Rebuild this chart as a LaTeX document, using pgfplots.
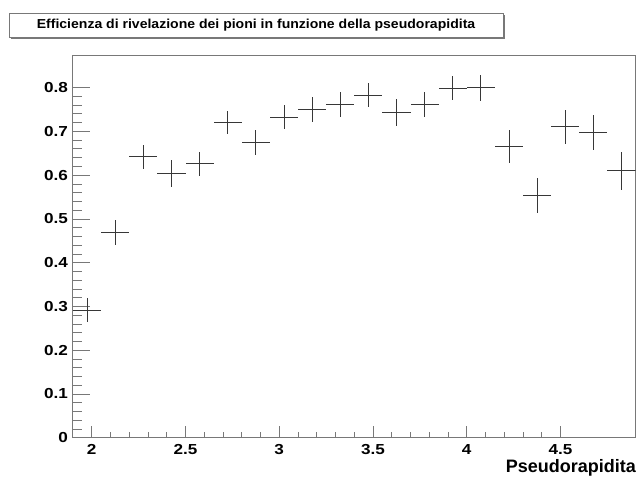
\documentclass[border=0pt]{standalone}
\usepackage{fontspec}
\setmainfont{Liberation Sans}
\usepackage{pgfplots}
\pgfplotsset{compat=1.18}
\usepackage{pgfplotstable}

% efficiency per pseudorapidity bin: centre, value, half bin width, error
\pgfplotstableread{
x      y      ex     ey
1.975  0.292  0.075  0.027
2.125  0.469  0.075  0.029
2.275  0.642  0.075  0.028
2.425  0.604  0.075  0.030
2.575  0.626  0.075  0.028
2.725  0.720  0.075  0.027
2.875  0.675  0.075  0.028
3.025  0.733  0.075  0.027
3.175  0.750  0.075  0.029
3.325  0.762  0.075  0.028
3.475  0.783  0.075  0.028
3.625  0.744  0.075  0.031
3.775  0.762  0.075  0.029
3.925  0.799  0.075  0.028
4.075  0.800  0.075  0.030
4.225  0.666  0.075  0.038
4.375  0.554  0.075  0.040
4.525  0.711  0.075  0.039
4.675  0.697  0.075  0.040
4.825  0.610  0.075  0.044
}\efftable

\definecolor{framegray}{RGB}{120,120,120}
\definecolor{crossgray}{RGB}{55,55,55}
\newcommand{\labfont}{\bfseries\addfontfeatures{FakeStretch=1.18}\fontsize{14.5}{17}\selectfont}
\newcommand{\titfont}{\bfseries\fontsize{18}{20}\selectfont}

\begin{document}
\begin{tikzpicture}[x=1pt,y=1pt]
\begin{axis}[
  name=ax,
  width=562.5pt, height=382pt, scale only axis,
  xmin=1.9, xmax=4.9, ymin=0, ymax=0.873,
  axis line style={framegray, line width=1pt},
  tick pos=left, tick align=inside,
  xtick={2,2.5,3,3.5,4,4.5}, minor x tick num=4,
  ytick={0,0.1,0.2,0.3,0.4,0.5,0.6,0.7,0.8}, minor y tick num=4,
  xticklabels={2,2.5,3,3.5,4,4.5},
  yticklabels={0,0.1,0.2,0.3,0.4,0.5,0.6,0.7,0.8},
  major tick length=17pt, minor tick length=9pt,
  xtick style={/pgfplots/major tick length=12pt, /pgfplots/minor tick length=6pt},
  every tick/.style={framegray, line width=0.8pt},
  tick label style={font=\labfont, black, inner sep=0pt},
  xticklabel style={anchor=north, yshift=-6.3pt},
  yticklabel style={anchor=east, xshift=-5pt},
  xlabel={Pseudorapidita},
  xlabel style={font=\titfont, inner sep=0pt,
    at={(axis description cs:1,0)}, anchor=base east, yshift=-35pt, xshift=0.5pt},
]
\addplot[draw=none, mark=none,
  error bars/.cd, x dir=both, x explicit, y dir=both, y explicit,
  error mark=none, error bar style={draw=crossgray, solid, line width=0.8pt}]
  table[x=x, y=y, x error=ex, y error=ey] {\efftable};
% page corners, measured from the lower left corner of the frame
\path (rel axis cs:0,0) ++(-73pt,-39.3pt) coordinate (pgll);
\path (rel axis cs:0,0) ++(564pt,437.7pt) coordinate (pgur);
\end{axis}
% title box with shadow
\begin{scope}[shift={(pgll)}]
\fill[framegray] (11,437.5) rectangle (505,462);
\filldraw[draw=framegray, fill=white, line width=0.8pt] (9,439.5) rectangle (503,464);
\node[font=\bfseries\addfontfeatures{FakeStretch=1.08}\fontsize{13}{15}\selectfont] at (256,451.5)
  {Efficienza di rivelazione dei pioni in funzione della pseudorapidita};
\end{scope}
\pgfresetboundingbox
\path[use as bounding box] (pgll) rectangle (pgur);
\end{tikzpicture}
\end{document}
